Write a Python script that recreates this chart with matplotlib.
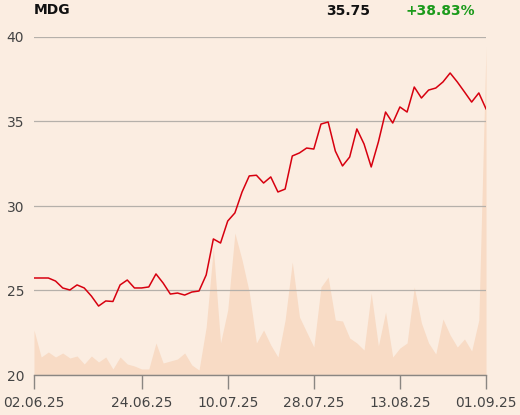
import numpy as np
import matplotlib
matplotlib.use("Agg")
import matplotlib.pyplot as plt

# closing prices, one per trading day (02.06.25 .. 01.09.25)
price = [
    25.74, 25.74, 25.74, 25.56, 25.15, 25.03, 25.33, 25.15, 24.67, 24.08,
    24.38, 24.35, 25.33, 25.62, 25.15, 25.15, 25.21, 25.98, 25.44, 24.79,
    24.85, 24.73, 24.91, 24.97, 25.92, 28.05, 27.81, 29.11, 29.59, 30.83,
    31.78, 31.82, 31.36, 31.72, 30.83, 31.00, 32.96, 33.14, 33.43, 33.37,
    34.85, 34.97, 33.25, 32.37, 32.90, 34.56, 33.67, 32.31, 33.79, 35.56,
    34.91, 35.86, 35.56, 37.04, 36.39, 36.86, 36.98, 37.34, 37.87, 37.34,
    36.75, 36.15, 36.69, 35.75,
]

# traded volume (arbitrary units)
volume = [
    45, 18, 23, 18, 22, 17, 19, 11, 19, 13,
    18, 6, 18, 11, 9, 6, 6, 32, 12, 14,
    16, 22, 10, 5, 48, 127, 32, 65, 142, 115,
    83, 32, 45, 30, 18, 55, 113, 58, 43, 28,
    88, 98, 55, 54, 37, 32, 25, 82, 29, 63,
    18, 27, 32, 88, 52, 32, 21, 56, 40, 28,
    36, 24, 55, 328,
]

tick_pos = [0, 15, 27, 39, 51, 63]
tick_labels = ["02.06.25", "24.06.25", "10.07.25", "28.07.25", "13.08.25", "01.09.25"]

name = "MDG"
last = "35.75"
change = "+38.83%"

bg = "#fbede1"
x = np.arange(len(price))

fig = plt.figure(figsize=(5.2, 4.15), dpi=100, facecolor=bg)
rect = [34 / 520, 1 - 375 / 415, 452 / 520, 338 / 415]

vax = fig.add_axes(rect)
vax.set_facecolor(bg)
vax.fill_between(x, volume, 0, color="#f8dbc5", lw=0)
vax.set_xlim(0, len(price) - 1)
vax.set_ylim(0, 338)
vax.axis("off")

ax = fig.add_axes(rect)
ax.patch.set_visible(False)
ax.plot(x, price, color="#d7000f", lw=1.1, zorder=3)
ax.set_xlim(0, len(price) - 1)
ax.set_ylim(20, 40)
ax.set_yticks([20, 25, 30, 35, 40])
ax.yaxis.grid(True, color="#b5b0aa", lw=0.9)
ax.set_axisbelow(True)
ax.set_xticks(tick_pos)
ax.set_xticklabels(tick_labels)

for s in ["top", "right", "left"]:
    ax.spines[s].set_visible(False)
ax.spines["bottom"].set_color("#8a8682")
ax.spines["bottom"].set_linewidth(1.0)

ax.tick_params(axis="x", length=10, width=1, color="#8a8682", labelsize=10,
               labelcolor="#444444", pad=5)
ax.tick_params(axis="y", length=0, labelsize=10, labelcolor="#444444", pad=7)

fig.text(34 / 520, 1 - 10 / 415, name, fontsize=10, fontweight="bold",
         color="#111111", va="center", ha="left")
fig.text(370 / 520, 1 - 11 / 415, last, fontsize=10, fontweight="bold",
         color="#111111", va="center", ha="right")
fig.text(475 / 520, 1 - 11 / 415, change, fontsize=10, fontweight="bold",
         color="#1a9a1a", va="center", ha="right")

fig.savefig("out.png", dpi=100, facecolor=bg)
